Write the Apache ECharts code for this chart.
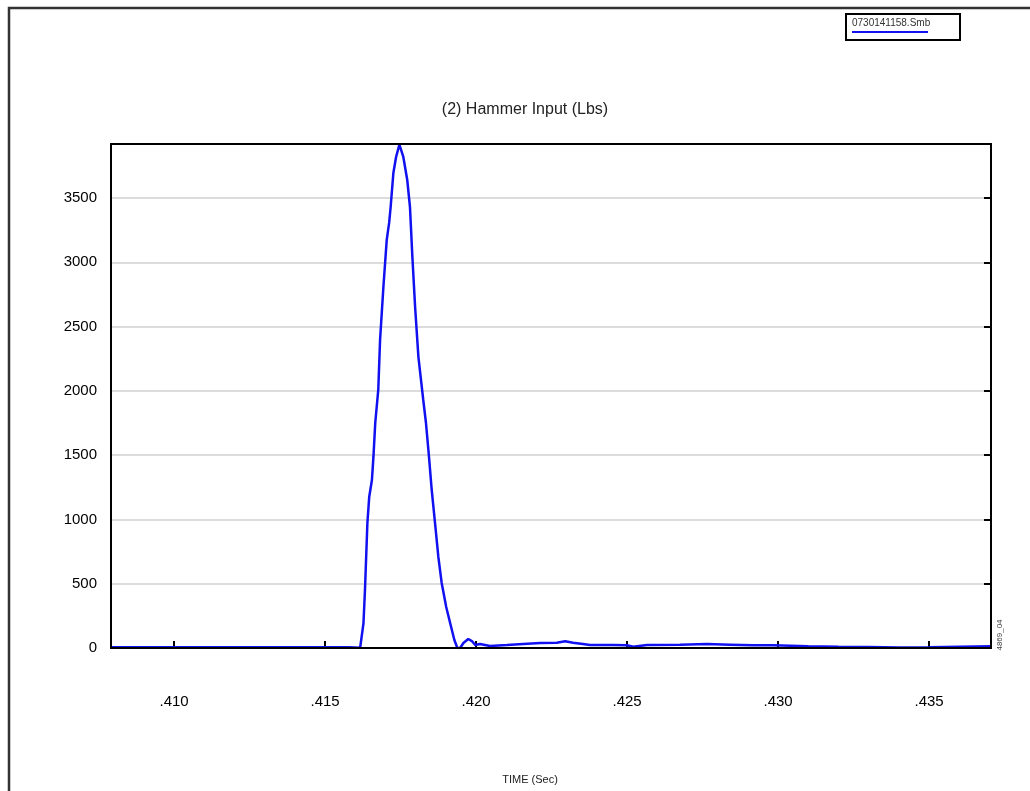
<!DOCTYPE html>
<html>
<head>
<meta charset="utf-8">
<script src="https://cdn.jsdelivr.net/npm/echarts@6/dist/echarts.min.js"></script>
<style>
html, body { margin: 0; padding: 0; background: #fff; }
#chart { width: 1030px; height: 791px; }
</style>
</head>
<body>
<div id="chart"></div>
<script>
// time (sec) and hammer force (lbs)
var times = [
    0.4079, 0.4090, 0.4100, 0.4110, 0.4120, 0.4130, 0.4140, 0.4150, 0.4158, 0.41616,
    0.41627, 0.41632, 0.41640, 0.41646, 0.41655, 0.41660, 0.41666, 0.41676, 0.41682, 0.41693,
    0.41704, 0.41712, 0.41717, 0.41726, 0.41735, 0.41746, 0.41759, 0.41772, 0.41781, 0.41789,
    0.41798, 0.41809, 0.41825, 0.41834, 0.41844, 0.41853, 0.41864, 0.41875, 0.41886, 0.41901,
    0.41914, 0.41928, 0.41938, 0.41947, 0.41958, 0.41974, 0.41986, 0.41997, 0.42013, 0.42046,
    0.42102, 0.42156, 0.42212, 0.42267, 0.42295, 0.42321, 0.42354, 0.42377, 0.42454, 0.42500,
    0.42520, 0.42566, 0.42675, 0.42765, 0.42841, 0.42917, 0.42983, 0.4310, 0.4320, 0.4330,
    0.4340, 0.4350, 0.4360, 0.43705
]
var force = [
    5, 6, 5, 6, 5, 6, 5, 6, 5, 2,
    192, 451, 972, 1174, 1307, 1486, 1750, 2007, 2396, 2808,
    3173, 3306, 3430, 3694, 3819, 3915, 3819, 3640, 3430, 3041,
    2652, 2263, 1929, 1750, 1486, 1229, 972, 708, 506, 319,
    194, 62, 0, 0, 39, 70, 54, 23, 31, 16,
    23, 31, 39, 41, 52, 41, 31, 23, 23, 21,
    10, 23, 26, 31, 26, 21, 21, 14, 10, 8,
    4, 6, 10, 14
]
var yTicks = [0, 500, 1000, 1500, 2000, 2500, 3000, 3500]
var xTicks = [0.410, 0.415, 0.420, 0.425, 0.430, 0.435]
var seriesName = '0730141158.Smb'
var chartTitle = '(2) Hammer Input (Lbs)'
var xName = 'TIME (Sec)'
var sideNote = '4869_04'

var myChart = echarts.init(document.getElementById('chart'))
var font = '"Liberation Sans", Arial, sans-serif'
var points = times.map(function (t, i) { return [t, force[i]] })

var option = {
    backgroundColor: '#fff',
    animation: false,
    grid: {
        left: 111,
        top: 144,
        width: 880,
        height: 504,
        show: false
    },
    xAxis: {
        type: 'value',
        min: 0.40791,
        max: 0.43705,
        axisLine: { show: false },
        splitLine: { show: false },
        axisTick: {
            show: true,
            inside: true,
            length: 7,
            customValues: xTicks,
            lineStyle: { color: '#000', width: 2 }
        },
        axisLabel: {
            margin: 46,
            customValues: xTicks,
            fontFamily: font,
            fontSize: 15,
            color: '#000',
            formatter: function (v) {
                return v.toFixed(3).replace(/^0/, '')
            }
        }
    },
    yAxis: [{
        type: 'value',
        min: 0,
        max: 3920,
        interval: 500,
        position: 'left',
        axisLine: { show: false },
        axisTick: { show: false },
        splitLine: {
            show: true,
            lineStyle: { color: '#dcdcdc', width: 2 }
        },
        axisLabel: {
            margin: 14,
            customValues: yTicks,
            fontFamily: font,
            fontSize: 15,
            color: '#000',
            formatter: function (v) { return String(v) }
        }
    }, {
        type: 'value',
        min: 0,
        max: 3920,
        interval: 500,
        position: 'right',
        axisLine: { show: false },
        splitLine: { show: false },
        axisLabel: { show: false },
        axisTick: {
            show: true,
            inside: true,
            length: 7,
            customValues: yTicks,
            lineStyle: { color: '#000', width: 2 }
        }
    }],
    series: [{
        name: seriesName,
        type: 'line',
        data: points,
        showSymbol: false,
        symbol: 'none',
        z: 3,
        lineStyle: { color: '#1010f0', width: 2.5 }
    }],
    graphic: [
        {
            type: 'rect',
            shape: { x: 9, y: 8, width: 1040, height: 800 },
            style: { fill: 'none', stroke: '#333', lineWidth: 2.5 }
        },
        {
            // plot frame, drawn over the grid lines
            type: 'rect',
            z: 10,
            silent: true,
            shape: { x: 111, y: 144, width: 880, height: 504 },
            style: { fill: 'none', stroke: '#000', lineWidth: 2 }
        },
        {
            type: 'text',
            x: 525,
            y: 110,
            style: {
                text: chartTitle,
                font: '16px ' + font,
                fill: '#222',
                textAlign: 'center',
                textVerticalAlign: 'middle'
            }
        },
        {
            type: 'text',
            x: 530,
            y: 780,
            style: {
                text: xName,
                font: '11px ' + font,
                fill: '#222',
                textAlign: 'center',
                textVerticalAlign: 'middle'
            }
        },
        {
            type: 'text',
            x: 1000,
            y: 635,
            rotation: Math.PI / 2,
            style: {
                text: sideNote,
                font: '8px ' + font,
                fill: '#444',
                textAlign: 'center',
                textVerticalAlign: 'middle'
            }
        },
        {
            type: 'rect',
            shape: { x: 846, y: 14, width: 114, height: 26 },
            style: { fill: '#fff', stroke: '#000', lineWidth: 2 }
        },
        {
            type: 'text',
            x: 852,
            y: 23,
            style: {
                text: seriesName,
                font: '10px ' + font,
                fill: '#333',
                textAlign: 'left',
                textVerticalAlign: 'middle'
            }
        },
        {
            type: 'line',
            shape: { x1: 852, y1: 32, x2: 928, y2: 32 },
            style: { stroke: '#1010f0', lineWidth: 2 }
        }
    ]
}
myChart.setOption(option)
</script>
</body>
</html>
